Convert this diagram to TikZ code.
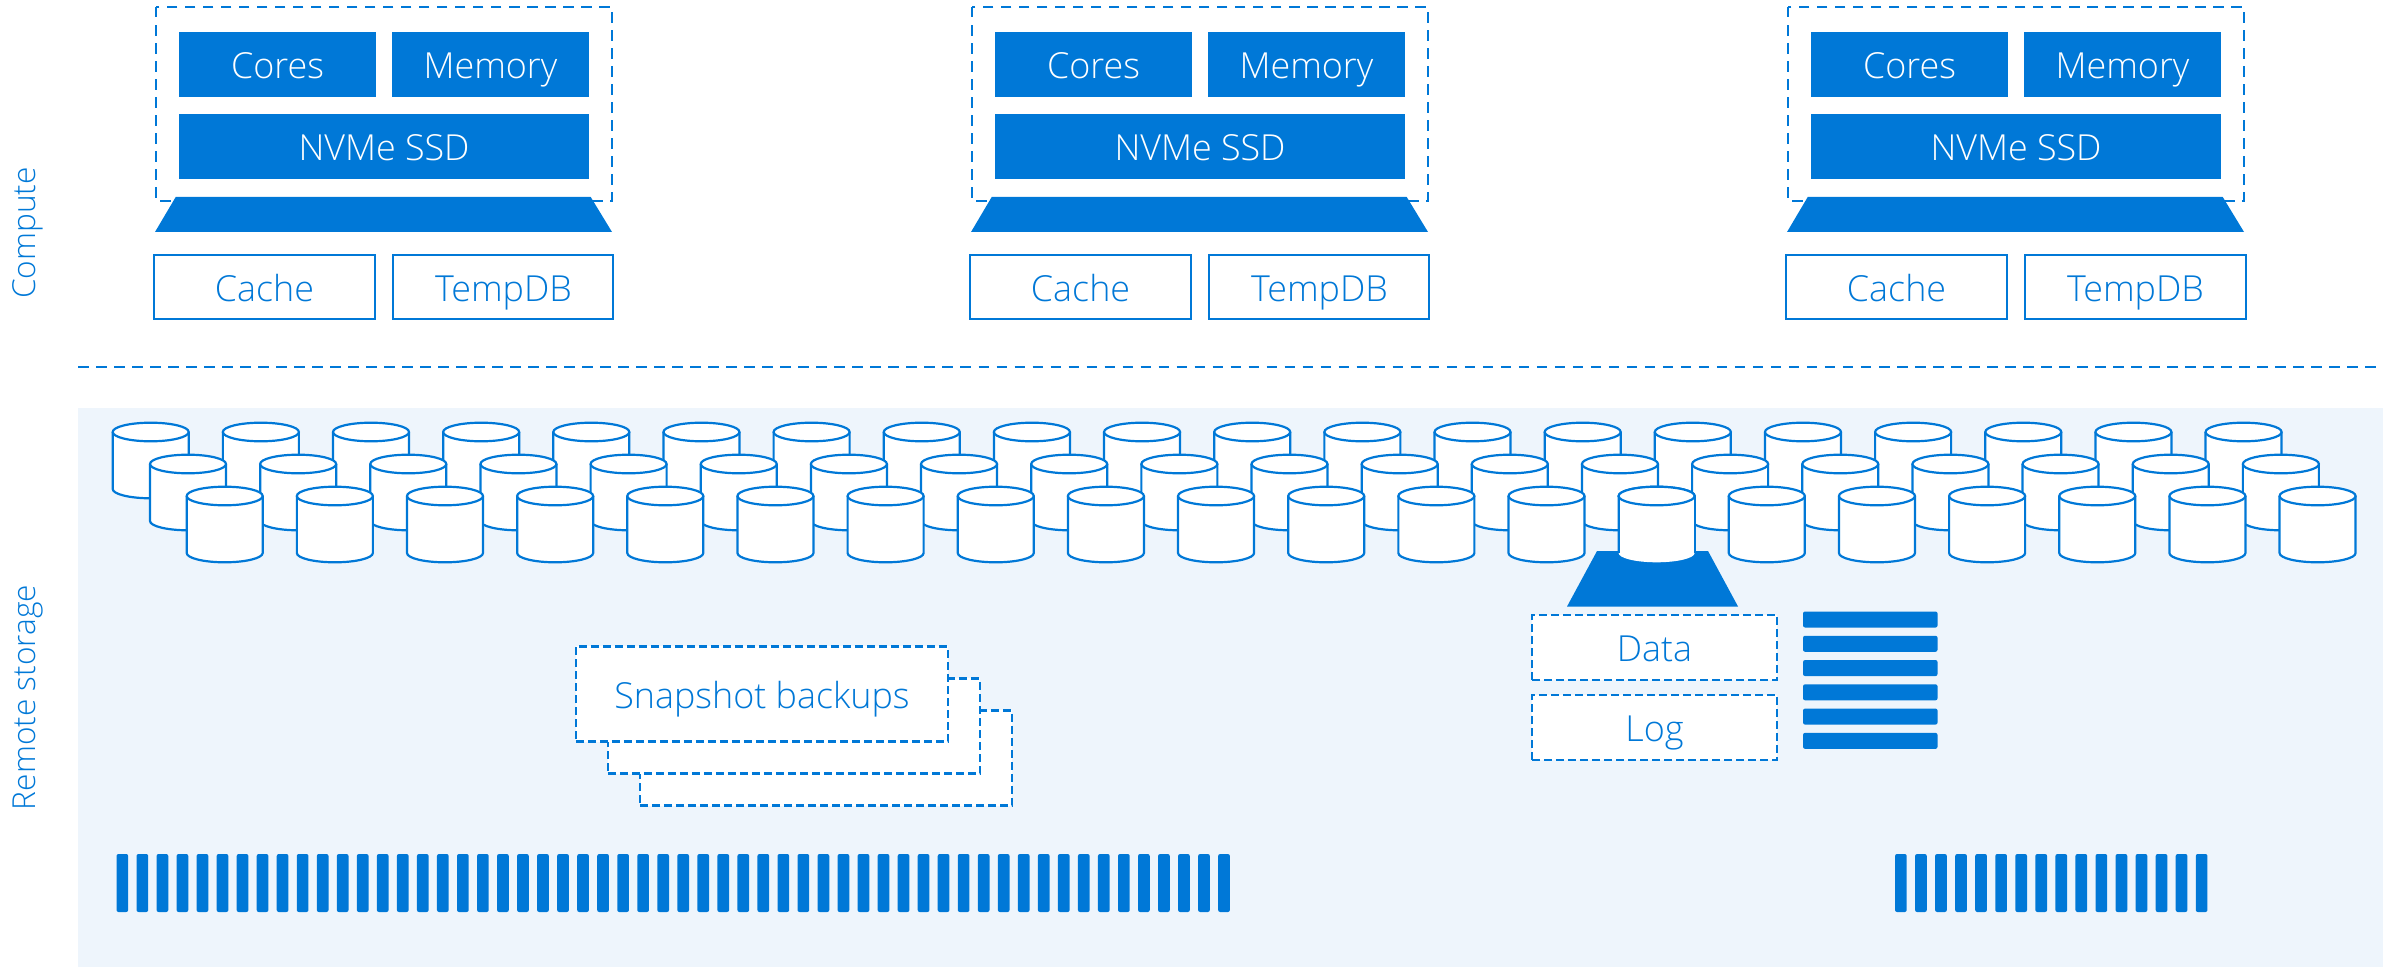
\documentclass[tikz,border=0pt]{standalone}
\usepackage{fontspec}
\setmainfont{Open Sans Light}
\definecolor{bleu}{HTML}{0078D7}
\definecolor{fond}{HTML}{EEF5FC}

\begin{document}
\begin{tikzpicture}[x=0.01cm, y=-0.01cm]
  \tikzstyle{texte}=[font=\fontsize{10.2pt}{12pt}\selectfont, inner sep=0, text height=0.8em, text depth=0pt];
  \tikzstyle{plein}=[texte, fill=bleu, text=white, minimum height=0.65cm];
  \tikzstyle{creux}=[texte, draw=bleu, fill=white, text=bleu, line width=0.02cm, minimum width=2.2cm, minimum height=0.64cm];
  \tikzstyle{tirets}=[draw=bleu, line width=0.026cm, dash pattern=on 0.105cm off 0.075cm];
  \tikzstyle{boite}=[texte, draw=bleu, line width=0.022cm, dash pattern=on 0.08cm off 0.04cm, fill=white, text=bleu];
  \tikzstyle{disque}=[draw=bleu, fill=white, line width=0.022cm];
  \tikzstyle{barre}=[fill=bleu, rounded corners=0.02cm];
  \tikzstyle{titre}=[font=\fontsize{9pt}{11pt}\selectfont, inner sep=0, text=bleu, rotate=90, anchor=base];

  \useasboundingbox (0, 0) rectangle (2383, 967);

  \fill[fond] (78, 408) rectangle (2383, 967);
  \draw[tirets] (78, 367) -- (2383, 367);

  \node[titre] (compute) at (35.5, 233) {Compute};
  \node[titre] (remote) at (35.5, 697.5) {Remote storage};

  % compute
  \foreach \S/\D in {1/0, 2/816, 3/1632} {
    \draw[tirets] (156+\D, 7) rectangle (612+\D, 201);
    \node[plein, minimum width=1.97cm] (cores\S) at (277.5+\D, 64.5) {Cores};
    \node[plein, minimum width=1.97cm] (memory\S) at (490.5+\D, 64.5) {Memory};
    \node[plein, minimum width=4.1cm] (ssd\S) at (384+\D, 146.5) {NVMe SSD};
    \fill[bleu] (175.7+\D, 197) -- (590.7+\D, 197) -- (612+\D, 232) -- (155+\D, 232) -- cycle;
    \node[creux] (cache\S) at (264.5+\D, 287) {Cache};
    \node[creux] (tempdb\S) at (503.4+\D, 287) {TempDB};
  }

  % remote storage
  \foreach \L/\Y in {112.7/432, 150/464, 186.7/496} {
    \foreach \k in {0, ..., 19} {
      \pgfmathsetmacro{\X}{\L+110.15*\k}
      \draw[disque] (\X, \Y) -- ++(0, 57) arc[start angle=180, end angle=0, x radius=38, y radius=9.3] -- ++(0, -57);
      \draw[disque] (\X+38, \Y) ellipse[x radius=38, y radius=9.3];
    }
  }

  \fill[bleu] (1597, 551) -- (1708, 551) -- (1738, 606.5) -- (1567, 606.5) -- cycle;
  \fill[white] (1618.6, 496) -- ++(0, 57) arc[start angle=180, end angle=0, x radius=38, y radius=9.3] -- ++(0, -57) -- cycle;
  \draw[bleu, line width=0.022cm] (1618.6, 496) -- ++(0, 57);
  \draw[bleu, line width=0.022cm] (1694.6, 496) -- ++(0, 57);
  \draw[disque] (1656.6, 496) ellipse[x radius=38, y radius=9.3];

  \node[boite, minimum width=2.45cm, minimum height=0.65cm] (data) at (1654.5, 647.5) {Data};
  \node[boite, minimum width=2.45cm, minimum height=0.65cm] (log) at (1654.5, 727.5) {Log};

  \foreach \k in {0, ..., 5} {
    \fill[barre] (1803, 611.5+24.27*\k) rectangle ++(134.5, 16);
  }

  \node[boite, minimum width=3.72cm, minimum height=0.95cm] (backup3) at (826, 758) {};
  \node[boite, minimum width=3.72cm, minimum height=0.95cm] (backup2) at (794, 726) {};
  \node[boite, minimum width=3.72cm, minimum height=0.95cm] (backup1) at (762, 694) {Snapshot backups};

  \foreach \k in {0, ..., 55} {
    \fill[barre] (116.5+20.03*\k, 854) rectangle ++(11.7, 58);
  }
  \foreach \k in {0, ..., 15} {
    \fill[barre] (1895+20.05*\k, 854) rectangle ++(11.7, 58);
  }
\end{tikzpicture}
\end{document}
